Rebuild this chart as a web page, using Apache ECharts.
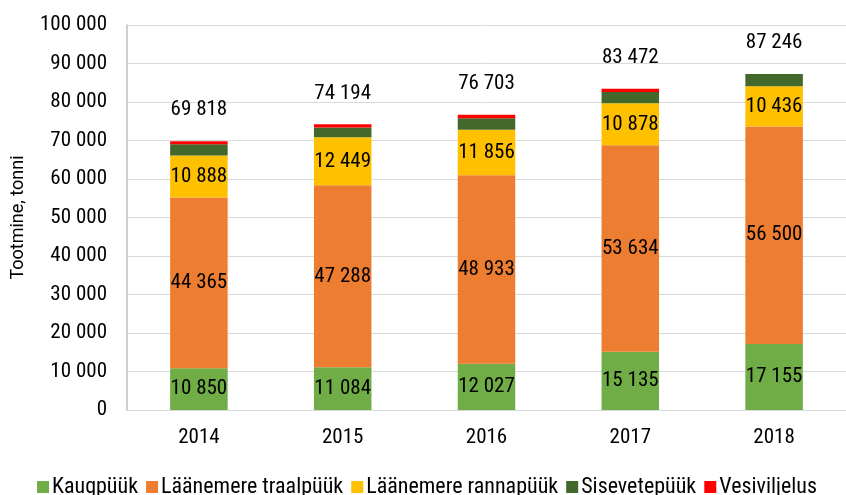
<!DOCTYPE html>
<html>
<head>
<meta charset="utf-8">
<script src="https://cdn.jsdelivr.net/npm/echarts@6/dist/echarts.min.js"></script>
<style>html,body{margin:0;padding:0;background:#fff;}#c{width:846px;height:495px;}</style>
</head>
<body>
<div id="c"></div>
<script>
const years = ['2014', '2015', '2016', '2017', '2018'];
const kaugpuuk = [10850, 11084, 12027, 15135, 17155];
const traalpuuk = [44365, 47288, 48933, 53634, 56500];
const rannapuuk = [10888, 12449, 11856, 10878, 10436];
const sisevetepuuk = [2935, 2573, 2987, 2925, 3155];
const vesiviljelus = [780, 800, 900, 900, 0];
const totals = [69818, 74194, 76703, 83472, 87246];
const yTicks = [0, 10000, 20000, 30000, 40000, 50000, 60000, 70000, 80000, 90000, 100000];

const FONT = "'Roboto Condensed', 'Liberation Sans Narrow', Roboto, sans-serif";
const FS = 21;
function fmt(v) { return String(v).replace(/\B(?=(\d{3})+(?!\d))/g, ' '); }

const chart = echarts.init(document.getElementById('c'));
const labelInside = { show: true, position: 'inside', color: '#000', fontFamily: FONT, fontSize: FS, formatter: p => fmt(p.value) };
function barSeries(name, data, color, label) {
  return { name, type: 'bar', stack: 'total', data, barWidth: '40%', itemStyle: { color }, label: label ? labelInside : { show: false }, emphasis: { disabled: true } };
}
chart.setOption({
  animation: false,
  textStyle: { fontFamily: FONT },
  grid: { left: 127, top: 25, width: 724, bottom: 85 },
  legend: {
    data: ['Kaugpüük', 'Läänemere traalpüük', 'Läänemere rannapüük', 'Sisevetepüük', 'Vesiviljelus'],
    bottom: -8, left: 32, itemWidth: 12, itemHeight: 12, itemGap: 8,
    icon: 'rect', textStyle: { fontFamily: FONT, fontSize: 22, color: '#000', padding: [0, 0, 0, -2] }
  },
  xAxis: {
    type: 'category', data: years,
    axisLine: { lineStyle: { color: '#d9d9d9', width: 1 } },
    axisTick: { show: false },
    axisLabel: { color: '#000', fontFamily: FONT, fontSize: FS, margin: 17 }
  },
  yAxis: {
    type: 'value', min: yTicks[0], max: yTicks[yTicks.length - 1], interval: yTicks[1] - yTicks[0],
    name: 'Tootmine, tonni', nameLocation: 'middle', nameGap: 100, nameRotate: 90,
    nameTextStyle: { color: '#000', fontFamily: 'Roboto, sans-serif', fontSize: 18 },
    axisLine: { show: true, lineStyle: { color: '#bfbfbf', width: 1.5 } },
    axisTick: { show: false },
    splitLine: { lineStyle: { color: '#d9d9d9', width: 1 } },
    axisLabel: { color: '#000', fontFamily: FONT, fontSize: FS, margin: 20, formatter: v => fmt(v) }
  },
  series: [
    barSeries('Kaugpüük', kaugpuuk, '#70AD47', true),
    barSeries('Läänemere traalpüük', traalpuuk, '#ED7D31', true),
    barSeries('Läänemere rannapüük', rannapuuk, '#FFC000', true),
    barSeries('Sisevetepüük', sisevetepuuk, '#43682B', false),
    barSeries('Vesiviljelus', vesiviljelus, '#FF0000', false),
    {
      name: 'Kokku', type: 'line', data: totals, symbol: 'circle', symbolSize: 1, showSymbol: true,
      itemStyle: { color: 'rgba(0,0,0,0)' }, lineStyle: { color: 'rgba(0,0,0,0)' }, silent: true, z: 10,
      labelLayout: { hideOverlap: false },
      label: { show: true, position: 'top', distance: 20, color: '#000', fontFamily: FONT, fontSize: FS, formatter: p => fmt(p.value) }
    }
  ]
});
</script>
</body>
</html>
